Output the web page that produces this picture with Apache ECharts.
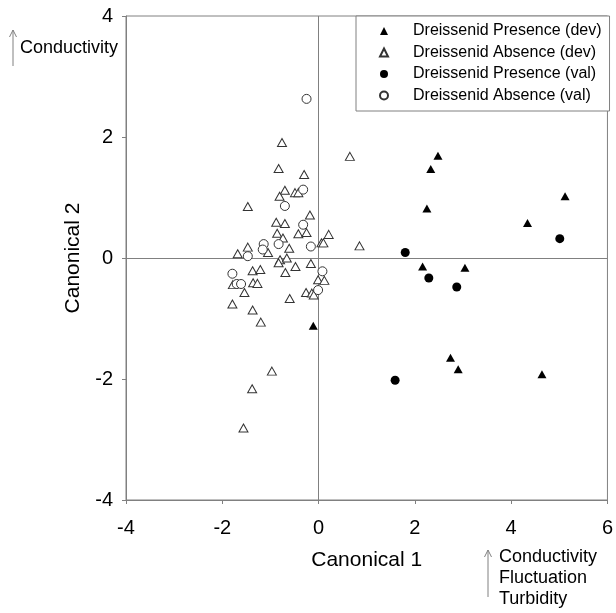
<!DOCTYPE html>
<html>
<head>
<meta charset="utf-8">
<script src="https://cdn.jsdelivr.net/npm/echarts@6/dist/echarts.min.js"></script>
<style>
  html, body { margin: 0; padding: 0; background: #fff; }
  #chart { width: 616px; height: 613px; }
</style>
</head>
<body>
<div id="chart"></div>
<script>
// canonical scores [canonical 1, canonical 2]
const presenceDev = [
  [2.48, 1.69], [2.33, 1.47], [2.25, 0.82], [5.12, 1.02], [4.34, 0.58],
  [2.16, -0.14], [3.04, -0.16], [2.74, -1.65], [2.90, -1.84], [4.64, -1.92],
  [-0.11, -1.12]
];
const absenceDev = [
  [-0.76, 1.91], [0.65, 1.68], [-0.83, 1.48], [-0.30, 1.38], [-0.70, 1.12],
  [-0.49, 1.08], [-0.42, 1.08], [-0.81, 1.02], [-1.47, 0.85], [-0.18, 0.71],
  [-0.88, 0.59], [-0.70, 0.57], [-0.86, 0.41], [-0.42, 0.40], [-0.25, 0.42],
  [-0.74, 0.33], [0.21, 0.39], [0.06, 0.25], [0.10, 0.25], [0.85, 0.20],
  [-1.47, 0.18], [-0.61, 0.16], [-1.68, 0.07], [-1.05, 0.09], [-0.80, -0.03],
  [-0.66, 0.00], [-0.83, -0.08], [-0.48, -0.14], [-0.16, -0.09], [-1.37, -0.21],
  [-1.21, -0.19], [-0.69, -0.24], [-0.01, -0.36], [0.12, -0.37], [-1.78, -0.44],
  [-1.36, -0.41], [-1.27, -0.42], [-1.54, -0.57], [-0.60, -0.67], [-0.26, -0.57],
  [-0.14, -0.58], [-0.10, -0.61], [-1.79, -0.76], [-1.37, -0.86], [-1.20, -1.06],
  [-0.97, -1.87], [-1.38, -2.16], [-1.56, -2.81]
];
const presenceVal = [
  [1.80, 0.09], [5.01, 0.32], [2.29, -0.33], [2.87, -0.48], [1.59, -2.02]
];
const absenceVal = [
  [-0.25, 2.63], [-0.32, 1.13], [-0.70, 0.86], [-0.32, 0.55], [-1.14, 0.23],
  [-0.83, 0.23], [-0.16, 0.19], [-1.16, 0.14], [-1.47, 0.03], [-1.79, -0.26],
  [0.08, -0.22], [-1.70, -0.43], [-1.61, -0.43], [-0.01, -0.53]
];
const seriesNames = [
  'Dreissenid Presence (dev)',
  'Dreissenid Absence (dev)',
  'Dreissenid Presence (val)',
  'Dreissenid Absence (val)'
];

const font = 'Liberation Sans, Arial, sans-serif';
const gray = '#808080';

const markSeries = (name, data, symbol, filled) => ({
  name: name,
  type: 'scatter',
  data: data,
  symbol: symbol,
  symbolSize: symbol === 'triangle' ? [9, 8] : 9,
  itemStyle: filled
    ? { color: '#000', borderColor: '#000', borderWidth: 0, opacity: 1 }
    : { color: '#fff', borderColor: '#333', borderWidth: 1, opacity: 1 },
  z: filled ? 3 : 2
});

const series = [
  markSeries(seriesNames[0], presenceDev, 'triangle', true),
  markSeries(seriesNames[1], absenceDev, 'triangle', false),
  markSeries(seriesNames[2], presenceVal, 'circle', true),
  markSeries(seriesNames[3], absenceVal, 'circle', false)
];
// 零线
series[1].markLine = {
  silent: true,
  symbol: 'none',
  label: { show: false },
  lineStyle: { color: gray, type: 'solid', width: 1 },
  data: [{ xAxis: 0 }, { yAxis: 0 }],
  z: 1
};

const option = {
  animation: false,
  grid: {
    left: 126, right: 6, top: 16, bottom: 113,
    show: true, borderColor: gray, borderWidth: 1
  },
  legend: {
    data: seriesNames,
    orient: 'vertical',
    left: 356,
    top: 16,
    itemWidth: 8,
    itemHeight: 8,
    itemGap: 5.5,
    padding: [7, 8, 7.5, 23],
    backgroundColor: '#fff',
    borderColor: gray,
    borderWidth: 1,
    borderRadius: 0,
    textStyle: {
      fontFamily: font,
      fontSize: 16,
      color: '#000',
      lineHeight: 16,
      padding: [0, 0, 0, 20]
    }
  },
  xAxis: {
    type: 'value',
    min: -4, max: 6, interval: 2,
    name: 'Canonical 1',
    nameLocation: 'middle',
    nameGap: 50,
    nameTextStyle: { fontFamily: font, fontSize: 21, color: '#000' },
    axisLine: { onZero: false, lineStyle: { color: gray } },
    axisTick: { length: 4, lineStyle: { color: gray } },
    axisLabel: { fontFamily: font, fontSize: 20, color: '#000', margin: 18 },
    splitLine: { show: false }
  },
  yAxis: {
    type: 'value',
    min: -4, max: 4, interval: 2,
    name: 'Canonical 2',
    nameLocation: 'middle',
    nameGap: 42,
    nameTextStyle: { fontFamily: font, fontSize: 21, color: '#000' },
    axisLine: { onZero: false, lineStyle: { color: gray } },
    axisTick: { length: 4, lineStyle: { color: gray } },
    axisLabel: { fontFamily: font, fontSize: 20, color: '#000', margin: 13 },
    splitLine: { show: false }
  },
  graphic: [
    // 左上箭头
    { type: 'line', shape: { x1: 13, y1: 66, x2: 13, y2: 30 }, style: { stroke: gray, lineWidth: 1 } },
    { type: 'polyline', shape: { points: [[9.5, 37], [13, 30], [16.5, 37]] }, style: { stroke: gray, lineWidth: 1, fill: null } },
    { type: 'text', left: 20, top: 39, style: { text: 'Conductivity', font: '18px ' + font, fill: '#000' } },
    // 右下箭头
    { type: 'line', shape: { x1: 488, y1: 597, x2: 488, y2: 550 }, style: { stroke: gray, lineWidth: 1 } },
    { type: 'polyline', shape: { points: [[484.5, 557], [488, 550], [491.5, 557]] }, style: { stroke: gray, lineWidth: 1, fill: null } },
    {
      type: 'text', left: 499, top: 547,
      style: { text: 'Conductivity\nFluctuation\nTurbidity', font: '18px ' + font, lineHeight: 21, fill: '#000' }
    }
  ],
  series: series
};

const chart = echarts.init(document.getElementById('chart'), null, { renderer: 'canvas' });
chart.setOption(option);
</script>
</body>
</html>
